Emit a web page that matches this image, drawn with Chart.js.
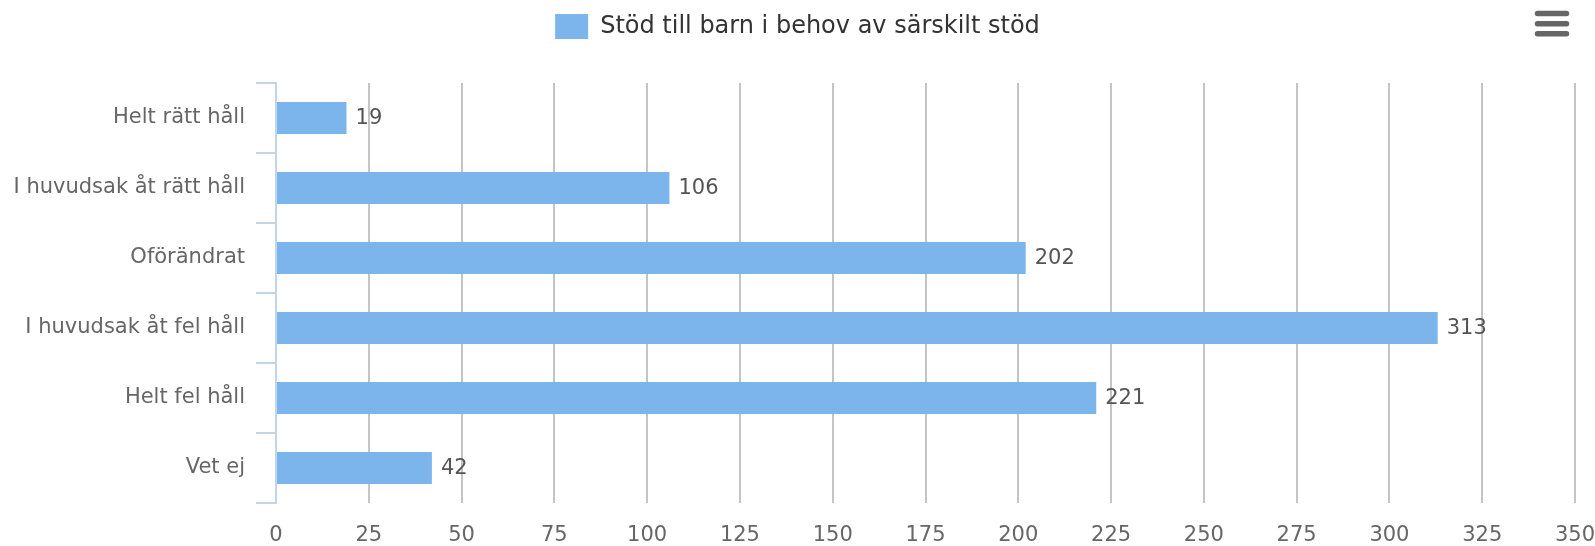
<!DOCTYPE html>
<html>
<head>
<meta charset="utf-8">
<script src="https://cdn.jsdelivr.net/npm/chart.js@4/dist/chart.umd.min.js"></script>
<style>
  html, body { margin: 0; padding: 0; background: #ffffff; }
  #wrap { position: relative; width: 1595px; height: 546px; }
</style>
</head>
<body>
<div id="wrap"><canvas id="c" width="1595" height="546"></canvas></div>
<script>
const categories = ["Helt rätt håll", "I huvudsak åt rätt håll", "Oförändrat", "I huvudsak åt fel håll", "Helt fel håll", "Vet ej"];
const seriesName = "Stöd till barn i behov av särskilt stöd";
const values = [19, 106, 202, 313, 221, 42];
const xMin = 0, xMax = 350, xStep = 25;

const FONT = "'DejaVu Sans', 'Lucida Grande', sans-serif";

const dataLabelPlugin = {
  id: 'dataLabels',
  afterDatasetsDraw(chart) {
    const ctx = chart.ctx;
    const meta = chart.getDatasetMeta(0);
    ctx.save();
    ctx.font = "21px " + FONT;
    ctx.fillStyle = '#555555';
    ctx.textAlign = 'left';
    ctx.textBaseline = 'middle';
    meta.data.forEach((bar, i) => {
      ctx.fillText(String(chart.data.datasets[0].data[i]), bar.x + 9, bar.y + 1);
    });
    ctx.restore();
  }
};

const menuPlugin = {
  id: 'menuIcon',
  afterDraw(chart) {
    const ctx = chart.ctx;
    ctx.save();
    ctx.strokeStyle = '#666666';
    ctx.lineWidth = 5.5;
    ctx.lineCap = 'round';
    [13.5, 23.7, 33.7].forEach(y => {
      ctx.beginPath();
      ctx.moveTo(1537.5, y);
      ctx.lineTo(1566.5, y);
      ctx.stroke();
    });
    ctx.restore();
  }
};

new Chart(document.getElementById('c'), {
  type: 'bar',
  data: {
    labels: categories,
    datasets: [{
      label: seriesName,
      data: values,
      backgroundColor: '#7cb5ec',
      borderWidth: 0,
      categoryPercentage: 1,
      barPercentage: 0.456
    }]
  },
  options: {
    indexAxis: 'y',
    responsive: false,
    animation: false,
    devicePixelRatio: 1,
    layout: { padding: { top: 0, right: 0, bottom: 0, left: 0 } },
    plugins: {
      legend: {
        display: true,
        position: 'top',
        labels: {
          boxWidth: 33,
          boxHeight: 25,
          padding: 14,
          color: '#333333',
          font: { family: FONT, size: 24 }
        }
      },
      subtitle: {
        display: true,
        text: '',
        position: 'top',
        weight: 500,
        font: { size: 1, lineHeight: 1 },
        padding: { top: 0, bottom: 33 }
      },
      tooltip: { enabled: false }
    },
    scales: {
      x: {
        type: 'linear',
        min: xMin,
        max: xMax,
        afterFit(scale) { scale.height = 43; scale.paddingRight = 20; },
        ticks: {
          stepSize: xStep,
          color: '#666666',
          padding: 20,
          font: { family: FONT, size: 21 }
        },
        grid: {
          drawTicks: false,
          lineWidth: 2,
          color: (c) => (c.tick && c.tick.value === 0) ? 'rgba(0,0,0,0)' : '#c4c4c4'
        },
        border: { display: false }
      },
      y: {
        type: 'category',
        afterFit(scale) { scale.width = 276; },
        ticks: {
          color: '#666666',
          padding: 11,
          font: { family: FONT, size: 21 }
        },
        grid: {
          offset: true,
          drawOnChartArea: false,
          drawTicks: true,
          tickLength: 20,
          lineWidth: 2,
          color: '#c3d3e8'
        },
        border: { display: true, color: '#c3d3e8', width: 2 }
      }
    }
  },
  plugins: [dataLabelPlugin, menuPlugin]
});
</script>
</body>
</html>
